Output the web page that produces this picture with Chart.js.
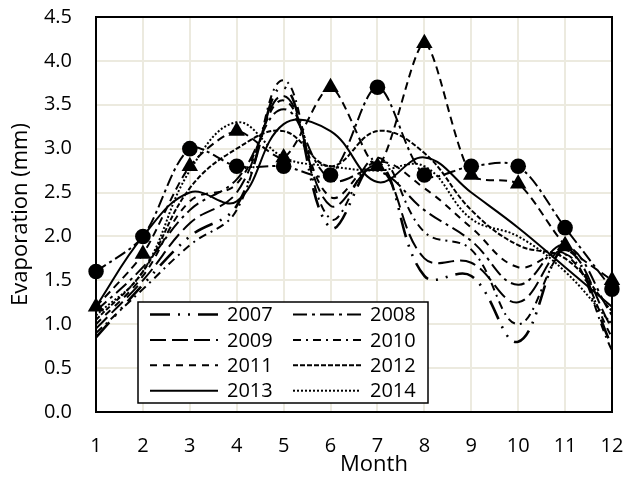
<!DOCTYPE html>
<html>
<head>
<meta charset="utf-8">
<script src="https://cdn.jsdelivr.net/npm/chart.js@4/dist/chart.umd.min.js"></script>
<style>
  html, body { margin: 0; padding: 0; background: #fff; }
  #wrap { width: 626px; height: 481px; position: relative; }
</style>
</head>
<body>
<div id="wrap"><canvas id="chart" width="626" height="481"></canvas></div>
<script>
// Monthly evaporation (mm), one array per year
const months = ['1','2','3','4','5','6','7','8','9','10','11','12'];
const years = ['2007','2008','2009','2010','2011','2012','2013','2014'];

const evap2007 = [0.85, 1.45, 2.00, 2.35, 3.70, 2.10, 2.85, 1.55, 1.55, 0.80, 1.85, 0.75];
const evap2008 = [1.15, 1.65, 2.30, 2.65, 3.45, 2.65, 2.75, 2.30, 1.95, 1.45, 1.90, 1.10];
const evap2009 = [0.95, 1.50, 2.15, 2.50, 3.60, 2.35, 2.80, 1.75, 1.70, 1.25, 1.85, 0.95];
const evap2010 = [0.90, 1.40, 1.90, 2.30, 3.78, 2.20, 2.90, 2.05, 1.85, 1.00, 1.80, 0.70];
const evap2011 = [1.00, 1.55, 2.40, 2.60, 3.55, 2.45, 2.85, 2.55, 2.10, 1.65, 1.80, 0.85];
const evap2012 = [1.05, 1.60, 2.55, 3.00, 3.20, 2.80, 3.20, 2.95, 2.30, 1.90, 1.75, 1.15];
const evap2013 = [1.20, 2.00, 2.50, 2.40, 3.28, 3.20, 2.62, 2.90, 2.50, 2.10, 1.65, 1.20];
const evap2014 = [1.10, 1.60, 2.75, 3.30, 2.90, 2.80, 2.75, 2.80, 2.20, 2.00, 1.60, 1.00];

// Two reference series drawn with markers (not listed in the legend)
const circleSeries   = [1.6, 2.0, 3.0, 2.8, 2.8, 2.7, 3.7, 2.7, 2.8, 2.8, 2.1, 1.4];
const triangleSeries = [1.2, 1.8, 2.8, 3.2, 2.9, 3.7, 2.8, 4.2, 2.7, 2.6, 1.9, 1.5];

const yMin = 0, yMax = 4.5, yStep = 0.5;

const yearData = [evap2007, evap2008, evap2009, evap2010, evap2011, evap2012, evap2013, evap2014];
const yearDash = [
  [20, 8, 2, 8, 2, 8],   // 2007 long dash dot dot
  [14, 5, 3, 5],         // 2008 long dash dot
  [16, 6],               // 2009 long dash
  [8, 5, 2, 5],          // 2010 dash dot
  [7, 6],                // 2011 dash
  [5, 2],                // 2012 short dash
  [],                    // 2013 solid
  [2, 2]                 // 2014 dotted
];
const yearWidth = [2.6, 2, 2, 2, 2, 2, 2, 2];

const datasets = [
  {
    label: 'circles', data: circleSeries, inLegend: false,
    borderColor: '#000', backgroundColor: '#000', borderWidth: 2,
    borderDash: [12, 4, 3, 4], tension: 0.3,
    pointStyle: 'circle', pointRadius: 7.8, pointBorderWidth: 0, pointBackgroundColor: '#000'
  },
  {
    label: 'triangles', data: triangleSeries, inLegend: false,
    borderColor: '#000', backgroundColor: '#000', borderWidth: 2,
    borderDash: [8, 5], tension: 0.25,
    pointStyle: 'triangle', pointRadius: 9.5, pointBorderWidth: 0, pointBackgroundColor: '#000'
  }
].concat(years.map((y, i) => ({
  label: y, data: yearData[i], inLegend: true,
  borderColor: '#000', backgroundColor: '#000',
  borderWidth: yearWidth[i], borderDash: yearDash[i],
  tension: 0.4, pointRadius: 0, pointHoverRadius: 0
})));

const FONT = "'Open Sans', 'DejaVu Sans', sans-serif";

// Frame around the plot, the boxed legend and the x-axis title
const framePlugin = {
  id: 'frameAndLegend',
  afterDatasetsDraw(chart) {
    const { ctx, chartArea: a } = chart;
    ctx.save();
    ctx.strokeStyle = '#000';
    ctx.lineWidth = 2;
    ctx.setLineDash([]);
    ctx.strokeRect(a.left, a.top, a.right - a.left, a.bottom - a.top);

    // legend box
    const bx = a.left + 42, bw = 290, bh = 101;
    const by = a.bottom - 9 - bh;
    ctx.fillStyle = '#fff';
    ctx.fillRect(bx, by, bw, bh);
    ctx.lineWidth = 1.5;
    ctx.strokeRect(bx, by, bw, bh);

    const items = chart.data.datasets.filter(d => d.inLegend);
    ctx.font = '20px ' + FONT;
    ctx.textBaseline = 'middle';
    ctx.textAlign = 'left';
    items.forEach((d, i) => {
      const col = i % 2, row = Math.floor(i / 2);
      const x0 = bx + 12 + col * 143;
      const yy = by + 12.5 + row * 25.4;
      ctx.strokeStyle = '#000';
      ctx.lineWidth = d.borderWidth;
      ctx.setLineDash(d.borderDash);
      ctx.beginPath();
      ctx.moveTo(x0, yy);
      ctx.lineTo(x0 + 68, yy);
      ctx.stroke();
      ctx.setLineDash([]);
      ctx.fillStyle = '#000';
      ctx.fillText(d.label, x0 + 77, yy + 1);
    });

    // x-axis title
    ctx.font = '22px ' + FONT;
    ctx.textAlign = 'center';
    ctx.textBaseline = 'middle';
    ctx.fillText('Month', a.left + 278, a.bottom + 53);
    ctx.restore();
  }
};

new Chart(document.getElementById('chart'), {
  type: 'line',
  data: { labels: months, datasets },
  options: {
    responsive: false,
    animation: false,
    events: [],
    layout: { autoPadding: false, padding: { top: 17, right: 14, left: 0, bottom: 0 } },
    plugins: { legend: { display: false }, tooltip: { enabled: false } },
    scales: {
      x: {
        type: 'category',
        offset: false,
        grid: { color: '#ECEADF', lineWidth: 2, drawTicks: false },
        border: { display: false },
        ticks: { color: '#000', font: { family: FONT, size: 20 }, padding: 22, maxRotation: 0, autoSkip: false },
        afterFit(s) { s.height = 69; s.paddingLeft = 0; s.paddingRight = 0; }
      },
      y: {
        min: yMin, max: yMax,
        grid: { color: '#ECEADF', lineWidth: 2, drawTicks: false },
        border: { display: false },
        ticks: { color: '#000', stepSize: yStep, padding: 24, font: { family: FONT, size: 20 },
                 callback: v => Number(v).toFixed(1) },
        title: { display: true, text: 'Evaporation (mm)', color: '#000',
                 font: { family: FONT, size: 22 }, padding: { top: 8, bottom: 0 } },
        afterFit(s) { s.width = 96; s.paddingTop = 0; s.paddingBottom = 0; }
      }
    }
  },
  plugins: [framePlugin]
});
</script>
</body>
</html>
